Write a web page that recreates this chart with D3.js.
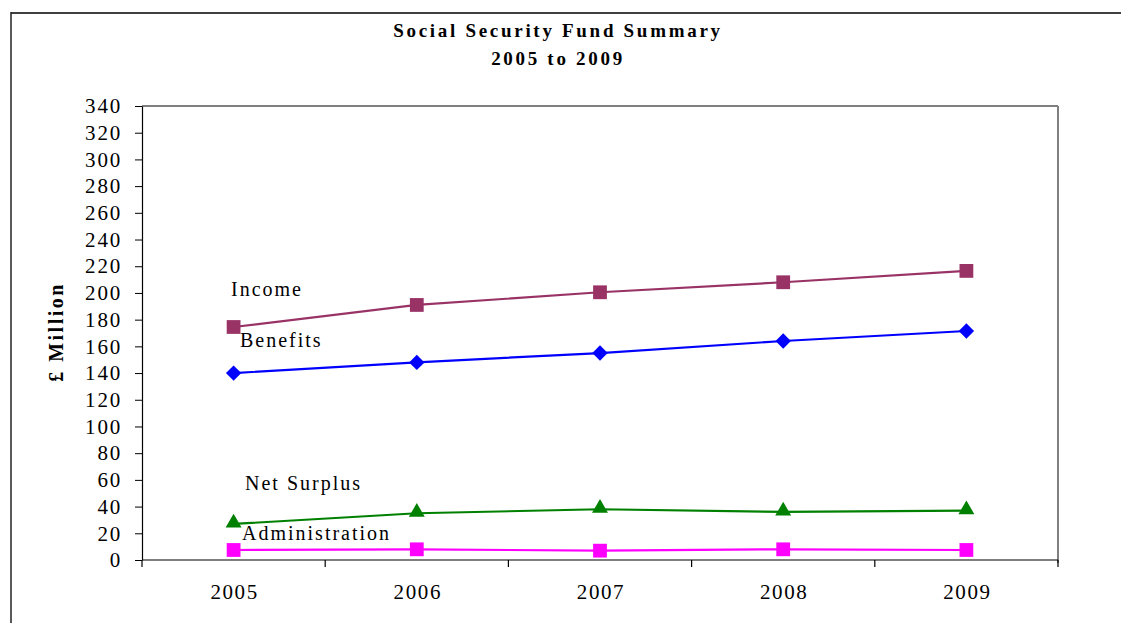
<!DOCTYPE html>
<html>
<head>
<meta charset="utf-8">
<script src="https://cdn.jsdelivr.net/npm/d3@7"></script>
<style>
  body { margin: 0; background: #fff; }
  text { font-family: "Liberation Serif", "Times New Roman", serif; fill: #000; }
</style>
</head>
<body>
<div id="chart"></div>
<script>
// data
let years = ["2005", "2006", "2007", "2008", "2009"];
let income = [174.5, 191, 200.5, 208, 216.5];
let benefits = [140, 148, 155, 164, 171.5];
let netSurplus = [27, 35, 38, 36, 37];
let administration = [7.5, 8, 7, 8, 7.5];
let yTicks = d3.range(0, 341, 20);

let series = [
  {name: "Income", values: income, color: "#993366", marker: "square", lx: 231, ly: 296},
  {name: "Benefits", values: benefits, color: "#0000ff", marker: "diamond", lx: 240, ly: 347},
  {name: "Net Surplus", values: netSurplus, color: "#008000", marker: "triangle", lx: 245, ly: 490},
  {name: "Administration", values: administration, color: "#ff00ff", marker: "square", lx: 242, ly: 540}
];

let width = 1121, height = 623;
let plot = {left: 142, right: 1058, top: 106, bottom: 560};

let svg = d3.select("#chart").append("svg")
  .attr("width", width)
  .attr("height", height);

// outer chart frame
svg.append("line")
  .attr("x1", 11).attr("x2", width).attr("y1", 13).attr("y2", 13)
  .attr("stroke", "#404040").attr("stroke-width", 2);
svg.append("line")
  .attr("x1", 11).attr("x2", 11).attr("y1", 12).attr("y2", height)
  .attr("stroke", "#222").attr("stroke-width", 1.5);

// title
svg.append("text")
  .attr("x", 558).attr("y", 37)
  .attr("text-anchor", "middle")
  .style("font-weight", "bold").style("font-size", "19px").style("letter-spacing", "2.7px")
  .text("Social Security Fund Summary");
svg.append("text")
  .attr("x", 558).attr("y", 65)
  .attr("text-anchor", "middle")
  .style("font-weight", "bold").style("font-size", "19px").style("letter-spacing", "2.7px")
  .text("2005 to 2009");

let x = d3.scaleBand()
  .domain(years)
  .range([plot.left, plot.right]);

let y = d3.scaleLinear()
  .domain([0, 340])
  .range([plot.bottom, plot.top]);

// plot area border (top black, right gray)
svg.append("line")
  .attr("x1", plot.left).attr("x2", plot.right).attr("y1", plot.top).attr("y2", plot.top)
  .attr("stroke", "#000").attr("stroke-width", 1.2);
svg.append("line")
  .attr("x1", plot.right).attr("x2", plot.right).attr("y1", plot.top).attr("y2", plot.bottom + 3)
  .attr("stroke", "#808080").attr("stroke-width", 2);

// y axis
let yAxis = svg.append("g")
  .attr("transform", "translate(" + plot.left + ",0)")
  .call(d3.axisLeft(y).tickValues(yTicks).tickSize(7).tickPadding(13).tickSizeOuter(0));
yAxis.select(".domain").attr("stroke", "#000").attr("stroke-width", 1.2);
yAxis.selectAll("text")
  .style("font-size", "21px").style("letter-spacing", "1.8px")
  .attr("font-family", null);

// x axis, ticks between categories
let xAxis = svg.append("g")
  .attr("transform", "translate(0," + plot.bottom + ")");
xAxis.append("line")
  .attr("x1", plot.left).attr("x2", plot.right)
  .attr("stroke", "#000").attr("stroke-width", 1.2);
let boundaries = years.map(d => x(d)).concat([plot.right]);
xAxis.selectAll(".tick")
  .data(boundaries)
  .enter().append("line")
  .attr("x1", d => d).attr("x2", d => d)
  .attr("y1", 0).attr("y2", 7)
  .attr("stroke", "#000").attr("stroke-width", 1.2);
xAxis.selectAll(".label")
  .data(years)
  .enter().append("text")
  .attr("x", d => x(d) + x.bandwidth() / 2 + 1)
  .attr("y", 39)
  .attr("text-anchor", "middle")
  .style("font-size", "21px").style("letter-spacing", "1.6px")
  .text(d => d);

// y axis title
svg.append("text")
  .attr("transform", "translate(63,332) rotate(-90)")
  .attr("text-anchor", "middle")
  .style("font-weight", "bold").style("font-size", "20px").style("letter-spacing", "2.5px")
  .text("£ Million");

let line = d3.line()
  .x((d, i) => x(years[i]) + x.bandwidth() / 2)
  .y(d => y(d));

let symbols = {
  square: d3.symbol().type(d3.symbolSquare).size(190),
  diamond: d3.symbol().type(d3.symbolDiamond2).size(150),
  triangle: d3.symbol().type(d3.symbolTriangle).size(110)
};

series.forEach(s => {
  svg.append("path")
    .datum(s.values)
    .attr("fill", "none")
    .attr("stroke", s.color)
    .attr("stroke-width", 2.2)
    .attr("d", line);

  svg.selectAll(".m-" + s.name.replace(" ", ""))
    .data(s.values)
    .enter().append("path")
    .attr("transform", (d, i) => "translate(" + (x(years[i]) + x.bandwidth() / 2) + "," + (y(d) + (s.marker == "triangle" ? -1 : 0)) + ")")
    .attr("d", symbols[s.marker])
    .attr("fill", s.color);

  svg.append("text")
    .attr("x", s.lx).attr("y", s.ly)
    .style("font-size", "20px").style("letter-spacing", "2px")
    .text(s.name);
});
</script>
</body>
</html>
